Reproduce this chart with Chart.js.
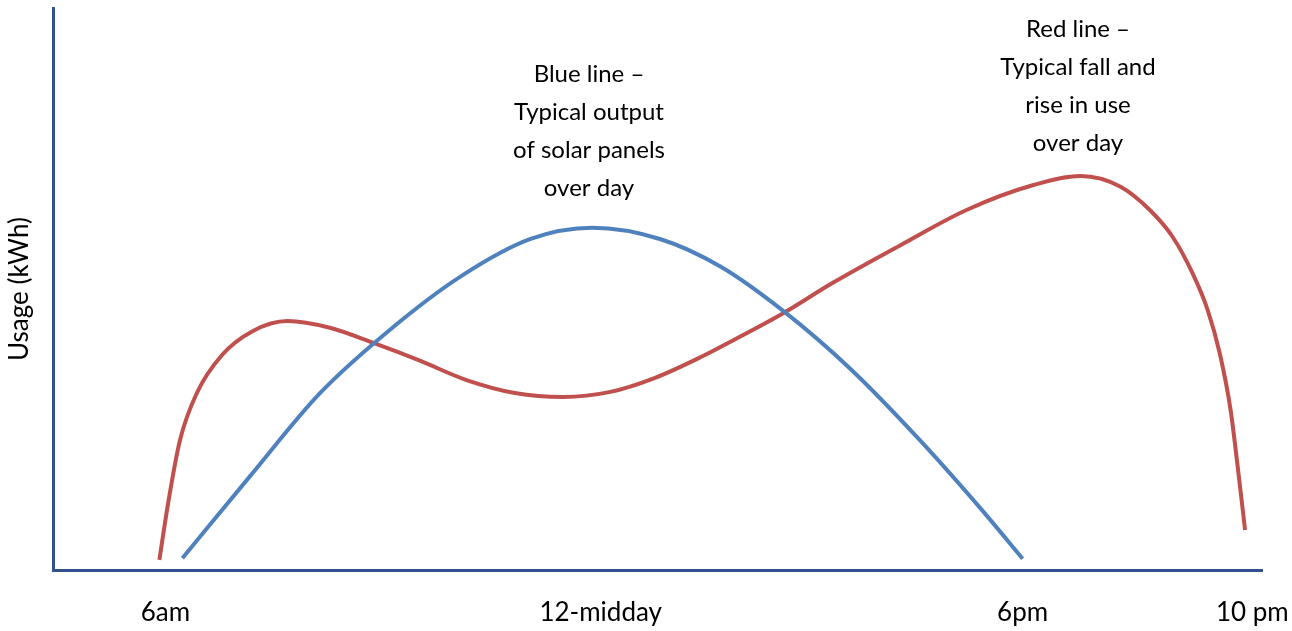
<!DOCTYPE html>
<html>
<head>
<meta charset="utf-8">
<script src="https://cdn.jsdelivr.net/npm/chart.js@4/dist/chart.umd.min.js"></script>
<style>
	html, body { margin: 0; padding: 0; background: #fff; }
	#wrap { width: 1292px; height: 631px; }
</style>
</head>
<body>
<div id="wrap"><canvas id="chart-usage"></canvas></div>
<script>
// Time runs along an unlabelled 0-100 axis, usage is relative (0-100)
const solarX = [10.7, 16.3, 22.1, 27.9, 33.7, 39.5, 44.6, 50.2, 55.2, 60.4, 65.9, 71.7, 76.7, 80.2];
const solarY = [2.1, 16.7, 31.5, 42.8, 52.2, 58.9, 60.9, 58.9, 54.0, 46.1, 35.9, 23.1, 11.0, 2.0];

const useX = [8.8, 9.5, 10.5, 11.9, 14.0, 16.5, 19.4, 22.9, 26.5, 30.4, 34.2, 38.2, 42.2, 46.1, 49.8, 53.5, 56.8, 60.4, 64.5, 70.1, 75.6, 81.1, 85.0, 88.3, 90.7, 92.6, 94.3, 95.5, 96.5, 97.4, 98.0, 98.6];
const useY = [1.8, 11.6, 23.1, 31.5, 38.3, 42.5, 44.3, 43.1, 40.4, 37.2, 33.8, 31.5, 30.8, 31.7, 34.2, 37.8, 41.5, 45.7, 51.1, 57.8, 64.1, 68.5, 70.1, 68.2, 64.1, 59.3, 52.6, 46.3, 38.6, 28.5, 18.2, 7.1];

const tickValues = [9.3, 45.3, 80.2, 99.2];
const tickLabels = ["6am", "12-midday", "6pm", "10 pm"];

const blueNote = ["Blue line \u2013", "Typical output", "of solar panels", "over day"];
const redNote = ["Red line \u2013", "Typical fall and", "rise in use", "over day"];

const FONT = "Lato, 'Open Sans', sans-serif";
const AXIS_COLOR = "#2F528F";

const toPoints = (xs, ys) => xs.map((x, i) => ({ x: x, y: ys[i] }));

// Text boxes drawn over the plot
const notesPlugin = {
	id: "notes",
	afterDraw(chart, args, opts) {
		const ctx = chart.ctx;
		ctx.save();
		ctx.fillStyle = "#000";
		ctx.font = opts.font;
		ctx.textAlign = "center";
		ctx.textBaseline = "middle";
		opts.boxes.forEach((box) => {
			box.lines.forEach((line, i) => {
				ctx.fillText(line, box.x, box.y + i * box.step);
			});
		});
		ctx.restore();
	},
};

const CHART_DATA = {
	datasets: [
		{
			label: "Solar output",
			data: toPoints(solarX, solarY),
			borderColor: "#4F81BD",
			borderWidth: 4,
			pointRadius: 0,
			cubicInterpolationMode: "monotone",
			fill: false,
		},
		{
			label: "Usage",
			data: toPoints(useX, useY),
			borderColor: "#C0504D",
			borderWidth: 4,
			pointRadius: 0,
			cubicInterpolationMode: "monotone",
			fill: false,
		},
	],
};

const CHART_CONFIG = {
	type: "line",
	data: CHART_DATA,
	plugins: [notesPlugin],
	options: {
		responsive: true,
		maintainAspectRatio: false,
		animation: false,
		layout: {
			padding: { top: 8, right: 30, left: 2, bottom: 0 },
		},
		plugins: {
			legend: { display: false },
			tooltip: { enabled: false },
			notes: {
				font: "24px " + FONT,
				boxes: [
					{ lines: blueNote, x: 589, y: 74, step: 38 },
					{ lines: redNote, x: 1078, y: 29, step: 38 },
				],
			},
		},
		scales: {
			x: {
				type: "linear",
				min: 0,
				max: 100,
				border: { display: true, color: AXIS_COLOR, width: 3 },
				grid: { display: false, drawTicks: false },
				afterBuildTicks: (scale) => {
					scale.ticks = tickValues.map((v) => ({ value: v }));
				},
				afterFit: (scale) => {
					scale.height = 61;
					// let the last label hang past the axis end
					scale.paddingLeft = 0;
					scale.paddingRight = 0;
				},
				ticks: {
					autoSkip: false,
					maxRotation: 0,
					padding: 27,
					color: "#000",
					font: { family: FONT, size: 26 },
					callback: (value, index) => tickLabels[index],
				},
			},
			y: {
				min: 0,
				max: 100,
				border: { display: true, color: AXIS_COLOR, width: 3 },
				grid: { display: false, drawTicks: false },
				ticks: { display: false },
				afterFit: (scale) => {
					scale.width = 51;
				},
				title: {
					display: true,
					text: "Usage (kWh)",
					color: "#000",
					font: { family: FONT, size: 26 },
					padding: { top: 2, bottom: 0 },
				},
			},
		},
	},
};

new Chart(document.getElementById("chart-usage"), CHART_CONFIG);
</script>
</body>
</html>
